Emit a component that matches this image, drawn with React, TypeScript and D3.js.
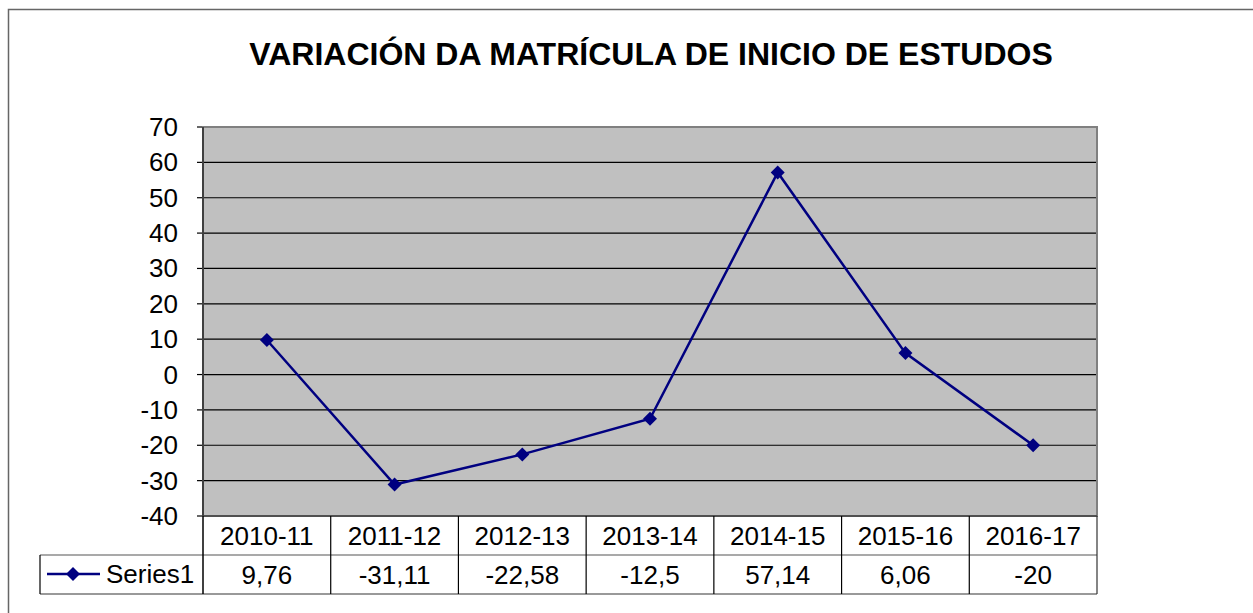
import React from "react";
import * as d3 from "d3";

const categories = ["2010-11", "2011-12", "2012-13", "2013-14", "2014-15", "2015-16", "2016-17"];
const values = [9.76, -31.11, -22.58, -12.5, 57.14, 6.06, -20];
const valueLabels = ["9,76", "-31,11", "-22,58", "-12,5", "57,14", "6,06", "-20"];
const yTicks = [70, 60, 50, 40, 30, 20, 10, 0, -10, -20, -30, -40];
const seriesName = "Series1";
const title = "VARIACIÓN DA MATRÍCULA DE INICIO DE ESTUDOS";

export default function App() {
  const W = 1253, H = 613;
  const L = 203, R = 1097, T = 127, B = 516;
  const row1 = 555, row2 = 594, legL = 40;
  const y = d3.scaleLinear().domain([-40, 70]).range([B, T]);
  const x = d3.scaleBand().domain(categories).range([L, R]);
  const cx = (c: string) => (x(c) as number) + x.bandwidth() / 2;
  const line = d3.line<number>().x((_, i) => cx(categories[i])).y((v) => y(v));
  const font = "'Liberation Sans', Arial, sans-serif";
  const fs = 26;
  const diamond = (px: number, py: number, s = 7) =>
    `M${px},${py - s}L${px + s},${py}L${px},${py + s}L${px - s},${py}Z`;

  return (
    <svg width={W} height={H} style={{ position: "absolute", left: 0, top: 0 }} fontFamily={font}>
      <rect x={0} y={0} width={W} height={H} fill="#fff" />
      <rect x={8.5} y={9.5} width={W + 20} height={H + 20} fill="none" stroke="#666" strokeWidth={1.5} />
      <text x={651} y={65} textAnchor="middle" fontSize={32} fontWeight="bold" fill="#000">{title}</text>
      <rect x={L} y={T} width={R - L} height={B - T} fill="#c0c0c0" />
      {yTicks.map((t) => (
        <g key={t}>
          {t !== 70 && t !== -40 && <line x1={L} x2={R} y1={y(t)} y2={y(t)} stroke="#000" strokeWidth={1.2} />}
          <line x1={L - 6} x2={L} y1={y(t)} y2={y(t)} stroke="#000" strokeWidth={1.2} />
          <text x={178} y={y(t) + 9} textAnchor="end" fontSize={fs} fill="#000">{t}</text>
        </g>
      ))}
      <rect x={L} y={T} width={R - L} height={B - T} fill="none" stroke="#808080" strokeWidth={2} />
      <line x1={L} x2={L} y1={T} y2={B} stroke="#404040" strokeWidth={2} />
      <line x1={L} x2={R} y1={B} y2={B} stroke="#404040" strokeWidth={1.5} />
      <path d={line(values) || ""} fill="none" stroke="#000080" strokeWidth={2.5} />
      {values.map((v, i) => (
        <path key={i} d={diamond(cx(categories[i]), y(v))} fill="#000080" />
      ))}
      {/* data table */}
      <line x1={legL} x2={R} y1={row1} y2={row1} stroke="#555" strokeWidth={1.2} />
      <line x1={legL} x2={R} y1={row2} y2={row2} stroke="#777" strokeWidth={1.5} />
      <line x1={legL} x2={legL} y1={row1} y2={row2} stroke="#000" strokeWidth={1.2} />
      <line x1={L} x2={L} y1={B} y2={row2} stroke="#000" strokeWidth={1.5} />
      {categories.map((c, i) => (
        <g key={c}>
          <line x1={(x(c) as number) + x.bandwidth()} x2={(x(c) as number) + x.bandwidth()} y1={B} y2={row2}
            stroke={i === categories.length - 1 ? "#333" : "#000"} strokeWidth={1.2} />
          <text x={cx(c)} y={row1 - 10} textAnchor="middle" fontSize={fs} fill="#000">{c}</text>
          <text x={cx(c)} y={row2 - 10} textAnchor="middle" fontSize={fs} fill="#000">{valueLabels[i]}</text>
        </g>
      ))}
      <line x1={47} x2={100} y1={574} y2={574} stroke="#000080" strokeWidth={2.5} />
      <path d={diamond(73, 574)} fill="#000080" />
      <text x={106} y={583} fontSize={fs} fill="#000">{seriesName}</text>
    </svg>
  );
}
